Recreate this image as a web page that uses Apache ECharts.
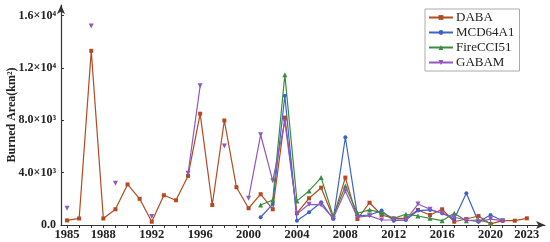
<!DOCTYPE html>
<html>
<head>
<meta charset="utf-8">
<script src="https://cdn.jsdelivr.net/npm/echarts@6/dist/echarts.min.js"></script>
<style>
  html, body { margin: 0; padding: 0; background: #fff; }
  #chart { width: 550px; height: 242px; }
</style>
</head>
<body>
<div id="chart"></div>
<script>
// years on the x axis
const years = [];
for (let y = 1985; y <= 2023; y++) years.push(y);
const labelYears = [1985, 1988, 1992, 1996, 2000, 2004, 2008, 2012, 2016, 2020, 2023];
const yTicks = [0, 4000, 8000, 12000, 16000];
const yTickLabels = ['0.0', '4.0×10³', '8.0×10³', '1.2×10⁴', '1.6×10⁴'];

// burned area, km², one value per year (null = no data)
const daba = [350, 500, 13300, 500, 1200, 3100, 2000, 250, 2270, 1890, 3750, 8500, 1530, 7980, 2880, 1280, 2350, 1200, 8200,
  900, 2040, 2850, 560, 3620, 460, 1700, 765, 510, 510, 1150, 765, 1200, 250, 460, 690, 80, 330, 330, 510];
const mcd64a1 = [null, null, null, null, null, null, null, null, null, null, null, null, null, null, null, null, 590, 1600, 9870,
  330, 970, 1740, 450, 6700, 690, 765, 1100, 330, 380, 1100, 1150, 900, 450, 2420, 250, 765, 330, null, null];
const fireCCI51 = [null, null, null, null, null, null, null, null, null, null, null, null, null, null, null, null, 1530, 1910, 11475,
  1840, 2600, 3620, 650, 2980, 900, 1150, 940, 510, 820, 690, 510, 330, 900, 330, 380, 150, null, null, null];
const gabam = [1280, null, 15200, null, 3190, null, null, 640, null, null, 3950, 10630, null, 6040, null, 2040, 6890, 3370, 7900,
  850, 1580, 1530, 520, 2600, 600, 700, 380, 380, 380, 1600, 1200, 900, 590, 380, 250, 450, 330, null, null];

const font = '"Liberation Serif", "Times New Roman", serif';
const axisColor = '#333';

function pairs(vals) {
  return years.map((y, i) => [y, vals[i]]);
}

function makeSeries(name, vals, color, symbol, rotate) {
  return {
    name: name,
    type: 'line',
    data: pairs(vals),
    symbol: symbol,
    symbolSize: symbol === 'triangle' ? 5 : 4,
    symbolRotate: rotate || 0,
    connectNulls: false,
    lineStyle: { width: 1.2, color: color },
    itemStyle: { color: color },
    emphasis: { disabled: true }
  };
}

const chart = echarts.init(document.getElementById('chart'));
chart.setOption({
  animation: false,
  grid: { left: 61, right: 5, top: 5, bottom: 17, containLabel: false, outerBoundsMode: 'none' },
  legend: {
    orient: 'vertical',
    left: 425,
    top: 9,
    padding: [2, 5, 2, 3],
    itemWidth: 24,
    itemHeight: 6,
    itemGap: 2,
    borderColor: '#aaa',
    borderWidth: 1,
    textStyle: { fontFamily: font, fontSize: 13, color: '#222', padding: [0, 0, 0, -2] },
    data: ['DABA', 'MCD64A1', 'FireCCI51', 'GABAM']
  },
  xAxis: {
    type: 'value',
    min: 1984.5,
    max: 2024.5,
    splitLine: { show: false },
    axisLine: { lineStyle: { color: axisColor, width: 1.2 }, symbol: ['none', 'arrow'], symbolSize: [6, 9] },
    axisTick: { customValues: years, length: 3, lineStyle: { color: axisColor } },
    axisLabel: {
      customValues: labelYears,
      margin: 3,
      fontFamily: font, fontWeight: 'bold', fontSize: 12.5, color: '#222',
      formatter: function (v) { return String(v); }
    }
  },
  yAxis: {
    type: 'value',
    min: 0,
    max: 16800,
    name: 'Burned Area(km²)',
    nameLocation: 'middle',
    nameGap: 43,
    nameMoveOverlap: false,
    nameTextStyle: { fontFamily: font, fontWeight: 'bold', fontSize: 12, color: '#222' },
    splitLine: { show: false },
    axisLine: { show: true, lineStyle: { color: axisColor, width: 1.2 }, symbol: ['none', 'arrow'], symbolSize: [6, 9] },
    axisTick: { customValues: yTicks, inside: true, length: 3, lineStyle: { color: axisColor } },
    axisLabel: {
      customValues: yTicks,
      margin: 5,
      fontFamily: font, fontWeight: 'bold', fontSize: 12, color: '#222',
      formatter: function (v) {
        const i = yTicks.indexOf(v);
        return i >= 0 ? yTickLabels[i] : '';
      }
    }
  },
  series: [
    makeSeries('DABA', daba, '#b24a22', 'rect'),
    makeSeries('MCD64A1', mcd64a1, '#3d63c9', 'circle'),
    makeSeries('FireCCI51', fireCCI51, '#3a8c3f', 'triangle'),
    makeSeries('GABAM', gabam, '#9158bf', 'triangle', 180)
  ]
});
</script>
</body>
</html>
